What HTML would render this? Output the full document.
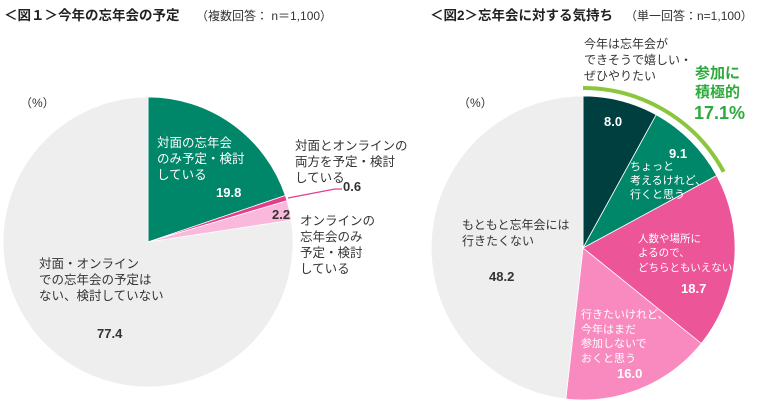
<!DOCTYPE html>
<html><head><meta charset="utf-8"><style>
body{margin:0;width:760px;height:410px;background:#fff;overflow:hidden}
svg text{font-family:"Liberation Sans","Noto Sans CJK JP",sans-serif}
</style></head><body>
<svg width="760" height="410" viewBox="0 0 760 410">
<text x="4" y="20" font-size="13.5" font-weight="bold" fill="#222">＜図１＞今年の忘年会の予定</text>
<text x="196" y="20" font-size="12" fill="#333">（複数回答： n＝1,100）</text>
<text x="430" y="20" font-size="13.5" font-weight="bold" fill="#222">＜図2＞忘年会に対する気持ち</text>
<text x="625" y="20" font-size="12" fill="#333">（単一回答：n=1,100）</text>

<!-- Pie 1 -->
<g stroke="#fff" stroke-width="0.8">
<path d="M148,242 L148,97 A145,145 0 0 1 285.3,195.5 Z" fill="#00876a"/>
<path d="M148,242 L285.3,195.5 A145,145 0 0 1 287.0,200.7 Z" fill="#e83c8a"/>
<path d="M148,242 L287.0,200.7 A145,145 0 0 1 291.4,220.2 Z" fill="#f9b8dc"/>
<path d="M148,242 L291.4,220.2 A145,145 0 1 1 148,97 Z" fill="#eeeeee"/>
</g>
<polyline points="288,198 335,189 342,189" fill="none" stroke="#e83c8a" stroke-width="1.2"/>
<text x="20" y="107" font-size="12" fill="#333">（%）</text>
<g font-size="12.5" fill="#fff"><text x="157" y="147">対面の忘年会</text><text x="157" y="163">のみ予定・検討</text><text x="157" y="179">している</text></g>
<text x="216" y="197" font-size="13" font-weight="bold" fill="#fff">19.8</text>
<g font-size="12.5" fill="#333"><text x="295" y="150">対面とオンラインの</text><text x="295" y="166">両方を予定・検討</text><text x="295" y="182">している</text></g>
<text x="343" y="191" font-size="13" font-weight="bold" fill="#333">0.6</text>
<text x="272" y="219" font-size="13" font-weight="bold" fill="#333">2.2</text>
<g font-size="12.5" fill="#333"><text x="300" y="225">オンラインの</text><text x="300" y="241">忘年会のみ</text><text x="300" y="257">予定・検討</text><text x="300" y="273">している</text></g>
<g font-size="12.5" fill="#333"><text x="39" y="268">対面・オンライン</text><text x="39" y="284">での忘年会の予定は</text><text x="39" y="300">ない、検討していない</text></g>
<text x="97" y="338" font-size="13" font-weight="bold" fill="#333">77.4</text>

<!-- Pie 2 -->
<g stroke="#fff" stroke-width="0.8">
<path d="M583,248 L583,96 A152,152 0 0 1 656.2,114.8 Z" fill="#003f3f"/>
<path d="M583,248 L656.2,114.8 A152,152 0 0 1 716.7,175.6 Z" fill="#00876a"/>
<path d="M583,248 L716.7,175.6 A152,152 0 0 1 701.3,343.5 Z" fill="#ec5598"/>
<path d="M583,248 L701.3,343.5 A152,152 0 0 1 565.8,399.0 Z" fill="#f98ac0"/>
<path d="M583,248 L565.8,399.0 A152,152 0 0 1 583,96 Z" fill="#eeeeee"/>
</g>
<path d="M583,88 A160,160 0 0 1 723.7,171.8" fill="none" stroke="#8cc63f" stroke-width="4"/>
<text x="458" y="107" font-size="12" fill="#333">（%）</text>
<g font-size="12" fill="#333"><text x="584" y="48">今年は忘年会が</text><text x="584" y="64">できそうで嬉しい・</text><text x="584" y="80">ぜひやりたい</text></g>
<g font-size="15" font-weight="bold" fill="#2eaa3c"><text x="695" y="78">参加に</text><text x="695" y="97">積極的</text><text x="694" y="119" font-size="18">17.1%</text></g>
<text x="604" y="126" font-size="13" font-weight="bold" fill="#fff">8.0</text>
<text x="669" y="158" font-size="13" font-weight="bold" fill="#fff">9.1</text>
<g font-size="11" fill="#fff"><text x="630" y="170">ちょっと</text><text x="630" y="184">考えるけれど、</text><text x="630" y="198">行くと思う</text></g>
<g font-size="10.5" fill="#fff"><text x="638" y="242">人数や場所に</text><text x="638" y="256">よるので、</text><text x="638" y="271">どちらともいえない</text></g>
<text x="681" y="293" font-size="13" font-weight="bold" fill="#fff">18.7</text>
<g font-size="11" fill="#fff"><text x="581" y="318">行きたいけれど、</text><text x="581" y="333">今年はまだ</text><text x="581" y="347">参加しないで</text><text x="581" y="362">おくと思う</text></g>
<text x="617" y="378" font-size="13" font-weight="bold" fill="#fff">16.0</text>
<g font-size="12" fill="#333"><text x="462" y="229">もともと忘年会には</text><text x="462" y="245">行きたくない</text></g>
<text x="489" y="281" font-size="13" font-weight="bold" fill="#333">48.2</text>
</svg>
</body></html>
